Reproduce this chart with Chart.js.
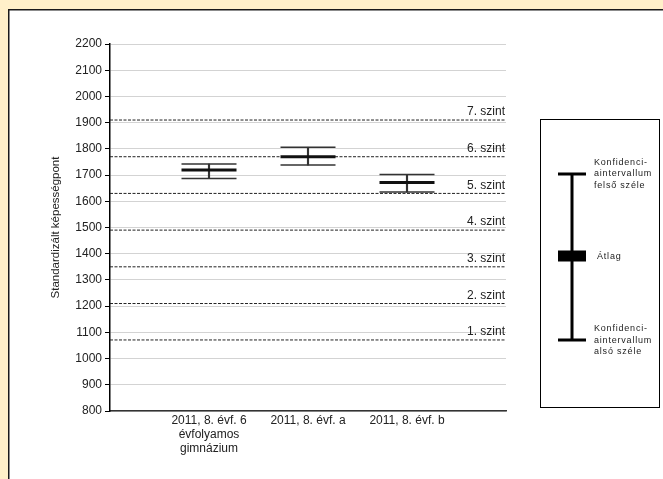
<!DOCTYPE html>
<html><head><meta charset="utf-8">
<script src="https://cdn.jsdelivr.net/npm/chart.js@4"></script>
<style>html,body{margin:0;padding:0;background:#fff}canvas{display:block}</style>
</head><body>
<canvas id="c" width="663" height="479"></canvas>
<script>
// ---- data ----
const categories = [['2011, 8. évf. 6', 'évfolyamos', 'gimnázium'], '2011, 8. évf. a', '2011, 8. évf. b'];
const ciUpper = [1742, 1806, 1702];
const means   = [1719, 1770, 1672];
const ciLower = [1687, 1738, 1635];
const levelValues = [1071, 1210, 1350, 1490, 1630, 1770, 1910];
const levelLabels = ['1. szint', '2. szint', '3. szint', '4. szint', '5. szint', '6. szint', '7. szint'];
const yMin = 800, yMax = 2200, yStep = 100;
const yTitle = 'Standardizált képességpont';
const legendUpper = ['Konfidenci-', 'aintervallum', 'felső széle'];
const legendMean = 'Átlag';
const legendLower = ['Konfidenci-', 'aintervallum', 'alsó széle'];

const FONT = '"Liberation Sans", Arial, sans-serif';
const labels = ['', ...categories, ''];
const pad = a => [null, ...a, null];

const capStyle = (data, width, color) => ({
  type: 'line', data: pad(data), showLine: false, pointStyle: 'line',
  pointRadius: 27.5, pointHoverRadius: 27.5, pointBorderWidth: width,
  pointBorderColor: color, pointBackgroundColor: color, order: 0
});

const datasets = [
  capStyle(means, 3, '#111'),
  capStyle(ciUpper, 1.5, '#333'),
  capStyle(ciLower, 1.5, '#333'),
  { type: 'bar', data: pad(ciLower.map((l, i) => [l, ciUpper[i]])), barThickness: 1.5,
    backgroundColor: '#333', borderWidth: 0, order: 1 },
  ...levelValues.map(v => ({
    type: 'line', data: labels.map(() => v), borderColor: '#222', borderWidth: 1,
    borderDash: [3, 1.5], pointRadius: 0, fill: false, order: 10
  }))
];

const framePlugin = {
  id: 'frame',
  beforeDraw(chart) {
    const ctx = chart.ctx;
    ctx.save();
    ctx.fillStyle = '#FFF0C9';
    ctx.fillRect(0, 0, chart.width, chart.height);
    ctx.fillStyle = '#fff';
    ctx.fillRect(9, 10, chart.width - 9, chart.height - 10);
    ctx.fillStyle = '#1a1a1a';
    ctx.fillRect(8, 9, chart.width - 8, 1.5);
    ctx.fillRect(8, 9, 1.5, chart.height - 9);
    ctx.restore();
  },
  afterDraw(chart) {
    const ctx = chart.ctx;
    const y = chart.scales.y;
    const area = chart.chartArea;
    ctx.save();
    // level labels
    ctx.font = '12px ' + FONT;
    ctx.fillStyle = '#222';
    ctx.textAlign = 'right';
    ctx.textBaseline = 'middle';
    levelValues.forEach((v, i) => {
      ctx.fillText(levelLabels[i], area.right - 1, y.getPixelForValue(v) - 8);
    });
    // legend box
    ctx.strokeStyle = '#000';
    ctx.lineWidth = 1;
    ctx.strokeRect(540.5, 119.5, 119, 288);
    ctx.fillStyle = '#000';
    ctx.fillRect(570.5, 174, 3, 166);
    ctx.fillRect(558, 172.5, 28, 3);
    ctx.fillRect(558, 338.5, 28, 3);
    ctx.fillRect(558, 250.5, 28, 11);
    ctx.fillStyle = '#222';
    ctx.textAlign = 'left';
    ctx.font = '9px ' + FONT;
    try { ctx.letterSpacing = '0.8px'; } catch (e) {}
    legendUpper.forEach((t, i) => ctx.fillText(t, 594, 162.5 + i * 11.5));
    ctx.fillText(legendMean, 597, 256.5);
    legendLower.forEach((t, i) => ctx.fillText(t, 594, 329 + i * 11.5));
    ctx.restore();
  }
};

new Chart(document.getElementById('c'), {
  type: 'line',
  data: { labels, datasets },
  plugins: [framePlugin],
  options: {
    responsive: false,
    animation: false,
    devicePixelRatio: 1,
    layout: { padding: { top: 44, right: 157, bottom: 0, left: 0 } },
    plugins: { legend: { display: false }, tooltip: { enabled: false } },
    scales: {
      x: {
        type: 'category', offset: false,
        grid: { display: false, drawTicks: false },
        border: { display: true, color: '#333', width: 1.5 },
        ticks: { font: { family: FONT, size: 12, lineHeight: 1.15 }, color: '#222',
                 maxRotation: 0, autoSkip: false, padding: 3 },
        afterFit(s) { s.height = 68; }
      },
      y: {
        min: yMin, max: yMax,
        ticks: { stepSize: yStep, font: { family: FONT, size: 12 }, color: '#222', padding: 3,
                 callback: v => String(v) },
        grid: { color: '#d3d3d3', lineWidth: 1, tickColor: '#000', tickLength: 5 },
        border: { display: true, color: '#000', width: 1.5 },
        title: { display: true, text: yTitle, font: { family: FONT, size: 11.5 }, color: '#222',
                 padding: { top: 49, bottom: 0 } },
        afterFit(s) { s.width = 110; }
      }
    }
  }
});
</script>
</body></html>
